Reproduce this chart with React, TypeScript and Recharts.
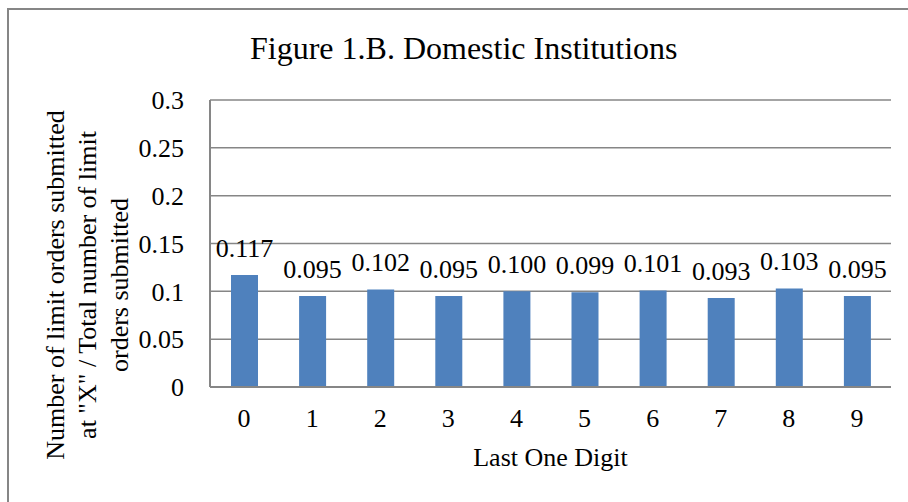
import { Bar, BarChart, CartesianGrid, LabelList, XAxis, YAxis } from "recharts";

const digits = ["0", "1", "2", "3", "4", "5", "6", "7", "8", "9"];
const shares = [0.117, 0.095, 0.102, 0.095, 0.1, 0.099, 0.101, 0.093, 0.103, 0.095];
const yTicks = [0, 0.05, 0.1, 0.15, 0.2, 0.25, 0.3];
const yLabelLines = ["Number of limit orders submitted", "at \"X\" / Total number of limit", "orders submitted"];

const data = digits.map((d, i) => ({ digit: d, share: shares[i] }));

const font = "'Liberation Serif', 'Times New Roman', serif";
const grey = "#868686";
const textStyle = { fontSize: 26, fill: "#000", fontFamily: font };

function YLabel() {
  return (
    <g>
      {yLabelLines.map((line, i) => {
        const x = 64 + i * 32;
        const y = 285;
        return (
          <text
            key={line}
            x={x}
            y={y}
            transform={`rotate(-90, ${x}, ${y})`}
            textAnchor="middle"
            style={textStyle}
          >
            {line}
          </text>
        );
      })}
    </g>
  );
}

export default function App() {
  return (
    <div
      style={{
        position: "absolute",
        left: 0,
        top: 0,
        width: 908,
        height: 502,
        overflow: "hidden",
        background: "#fff",
        fontFamily: font,
      }}
    >
      <div
        style={{
          position: "absolute",
          left: 7,
          top: 8,
          width: 940,
          height: 540,
          border: `2px solid ${grey}`,
          boxSizing: "border-box",
        }}
      />
      <div
        style={{
          position: "absolute",
          left: 250,
          width: 400,
          top: 28,
          fontSize: 32,
          lineHeight: "40px",
          whiteSpace: "nowrap",
          color: "#000",
        }}
      >
        Figure 1.B. Domestic Institutions
      </div>
      <BarChart
        width={908}
        height={502}
        data={data}
        margin={{ top: 100, right: 17, bottom: 0, left: 0 }}
        style={{ position: "absolute", left: 0, top: 0, fontFamily: font }}
      >
        <CartesianGrid vertical={false} stroke={grey} strokeWidth={1.5} />
        <XAxis
          dataKey="digit"
          height={115}
          axisLine={{ stroke: grey, strokeWidth: 2 }}
          tickLine={false}
          tickSize={0}
          tickMargin={22}
          tick={{ style: textStyle }}
          label={{ value: "Last One Digit", position: "insideBottom", offset: 36, style: textStyle }}
        />
        <YAxis
          width={210}
          domain={[0, 0.3]}
          ticks={yTicks}
          interval={0}
          axisLine={{ stroke: grey, strokeWidth: 2 }}
          tickLine={false}
          tickSize={0}
          tickMargin={26}
          tick={{ style: textStyle }}
          tickFormatter={(v: number) => String(v)}
          label={{ content: () => <YLabel /> }}
        />
        <Bar dataKey="share" fill="#4F81BD" barSize={27} isAnimationActive={false}>
          <LabelList
            dataKey="share"
            position="top"
            offset={18}
            formatter={(v: number) => Number(v).toFixed(3)}
            style={textStyle}
          />
        </Bar>
      </BarChart>
    </div>
  );
}
